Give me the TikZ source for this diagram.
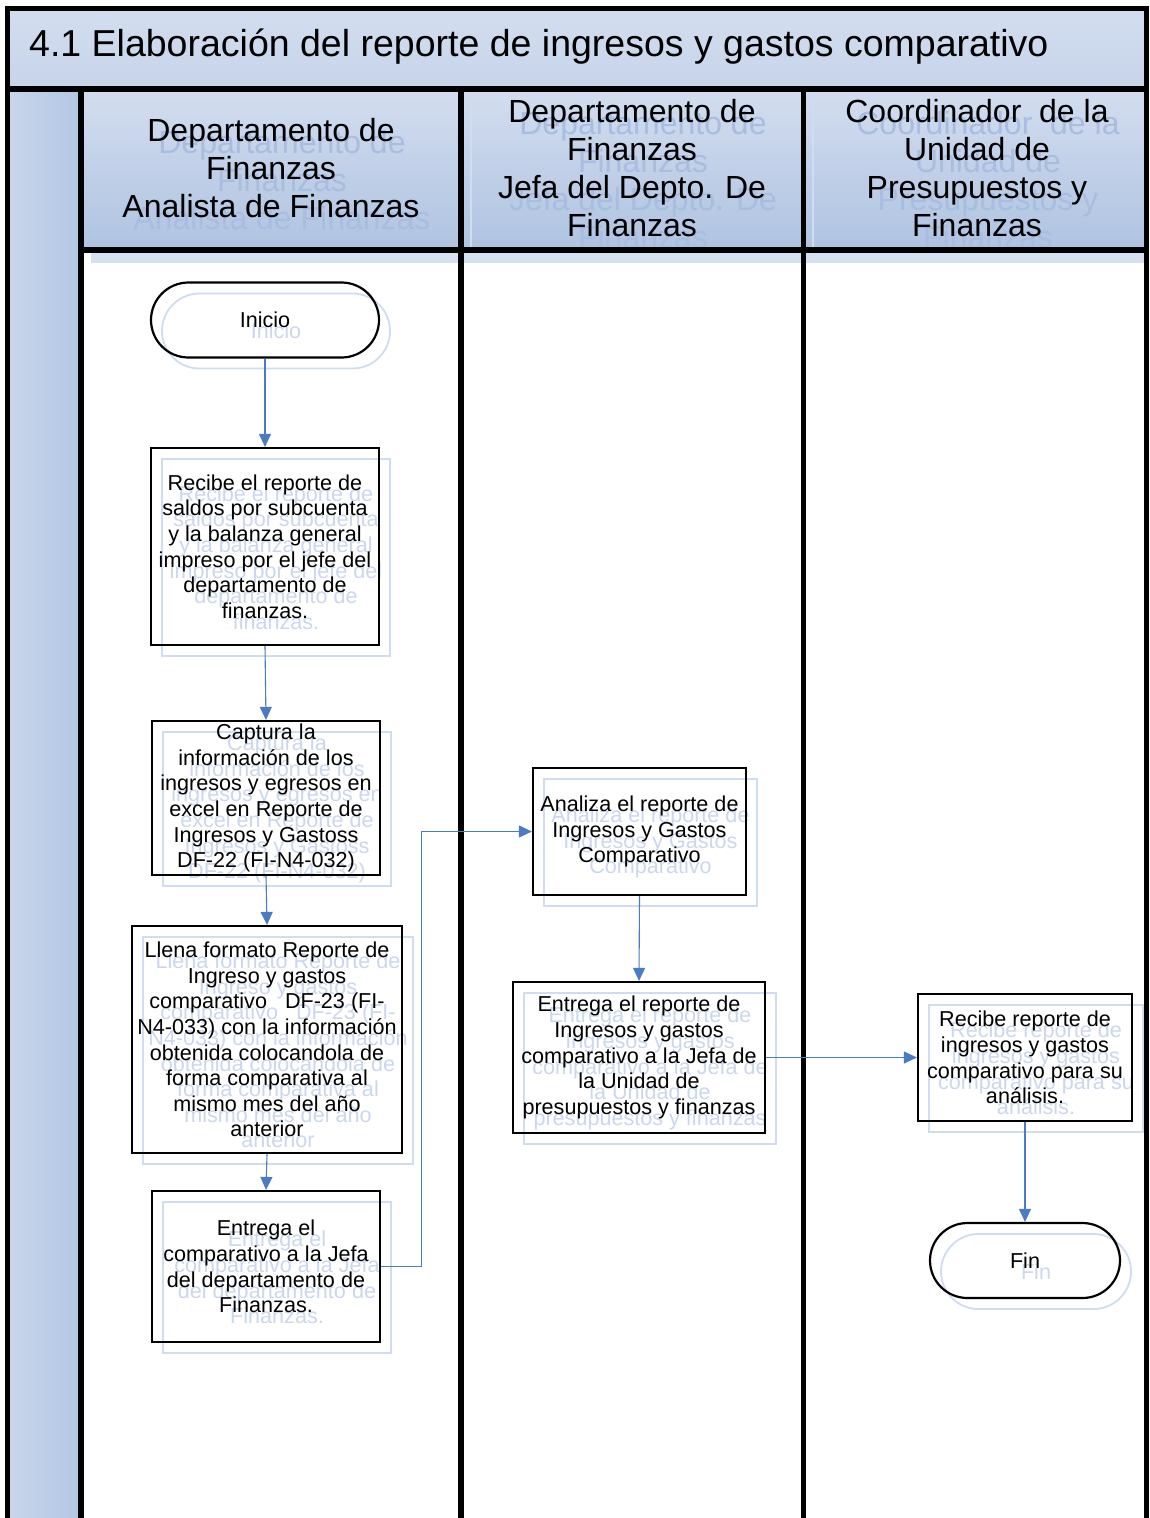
\documentclass[tikz,border=0pt]{standalone}
\usepackage{fontspec}
\setmainfont{Liberation Sans}
\usetikzlibrary{shapes.misc,arrows.meta}

\definecolor{titlefill}{HTML}{C6D4EA}
\definecolor{headtop}{HTML}{D3DDEF}
\definecolor{headbot}{HTML}{AFC3E1}
\definecolor{stripfill}{HTML}{B3C6E2}
\definecolor{ghostline}{HTML}{D0DCF0}
\definecolor{ghosttext}{HTML}{CBD7EE}
\definecolor{ghosthead}{HTML}{A8BDE0}
\definecolor{ghostfill}{HTML}{D7E0F0}
\definecolor{flowblue}{HTML}{4A7CC6}

\tikzset{
  boxtext/.style={font=\fontsize{21.6}{25.6}\selectfont, align=center, inner sep=0pt},
  procbox/.style={boxtext, draw=black, line width=2.2pt, rectangle},
  termbox/.style={boxtext, draw=black, line width=2.2pt, rounded rectangle},
  ghostproc/.style={boxtext, draw=ghostline, line width=1.8pt, rectangle, text=ghosttext},
  ghostterm/.style={boxtext, draw=ghostline, line width=1.8pt, rounded rectangle, text=ghosttext},
  headtext/.style={font=\fontsize{32}{38}\selectfont, align=center, inner sep=0pt},
  flow/.style={draw=flowblue, line width=1.1pt, -{Triangle[length=13pt,width=12pt]}},
  frame/.style={draw=black, line width=6pt},
}

% shape kind (proc/term), name, x, y, width, height, text
\newcommand\flowshape[7]{%
  \node[ghost#1, minimum width=#5, minimum height=#6] at ({#3+11},{#4+11}) {#7};
  \node[#1box, minimum width=#5, minimum height=#6] (#2) at (#3,#4) {#7};
}

\begin{document}
\begin{tikzpicture}[x=1pt, y=-1pt]
\useasboundingbox (0,0) rectangle (1149,1518);
\fill[white] (0,0) rectangle (1149,1518);

% title bar and left strip
\shade[top color=headtop, bottom color=titlefill] (7,8) rectangle (1146,89);
\shade[left color=headtop!70!stripfill, right color=stripfill] (7,89) rectangle (81,1518);

% lane header shadows
\fill[ghostfill] (91,101) rectangle (471,263);
\fill[ghostfill] (471,101) rectangle (813,263);
\fill[ghostfill] (813,101) rectangle (1146,263);

% lane headers
\shade[top color=headtop, bottom color=headbot] (81,89) rectangle (461,250);
\shade[top color=headtop, bottom color=headbot] (461,89) rectangle (803,250);
\shade[top color=headtop, bottom color=headbot] (803,89) rectangle (1146,250);
\draw[ghostline, line width=1.5pt] (471,101) -- (471,250);
\draw[ghostline, line width=1.5pt] (813,101) -- (813,250);

% header texts with their shadows
\node[headtext, text=ghosthead] at (282,180) {Departamento de\\Finanzas\\Analista de Finanzas};
\node[headtext, text=ghosthead] at (643,180) {Departamento de\\Finanzas\\Jefa del Depto. De\\Finanzas};
\node[headtext, text=ghosthead] at (988,180) {Coordinador\ \ de la\\Unidad de\\Presupuestos y\\Finanzas};
\node[headtext] (h1) at (271,168) {Departamento de\\Finanzas\\Analista de Finanzas};
\node[headtext] (h2) at (632,168) {Departamento de\\Finanzas\\Jefa del Depto. De\\Finanzas};
\node[headtext] (h3) at (977,168) {Coordinador\ \ de la\\Unidad de\\Presupuestos y\\Finanzas};

% title
\node[anchor=west, inner sep=0pt, font=\fontsize{37.5}{44}\selectfont] (title) at (29,47)
  {4.1 Elaboración del reporte de ingresos y gastos comparativo};

% frame and lane dividers
\draw[frame, line width=5pt] (7,1530) -- (7,8) -- (1146,8) -- (1146,1530);
\draw[frame] (7,89) -- (1146,89);
\draw[frame] (81,89) -- (81,1530);
\draw[frame] (81,250) -- (1146,250);
\draw[frame] (461,89) -- (461,1530);
\draw[frame, line width=5pt] (803,89) -- (803,1530);

% flow shapes
\flowshape{term}{ini}{265}{320}{228}{75}{Inicio}
\flowshape{proc}{b1}{265}{546.5}{228}{197}{Recibe el reporte de\\saldos por subcuenta\\y la balanza general\\impreso por el jefe del\\departamento de\\finanzas.}
\flowshape{proc}{b2}{266}{798}{228}{154}{Captura la\\información de los\\ingresos y egresos en\\excel en Reporte de\\Ingresos y Gastoss\\DF-22 (FI-N4-032)}
\flowshape{proc}{b3}{267}{1039.5}{270}{227}{Llena formato Reporte de\\Ingreso y gastos\\comparativo\ \ \ DF-23 (FI-\\N4-033) con la información\\obtenida colocandola de\\forma comparativa al\\mismo mes del año\\anterior}
\flowshape{proc}{b4}{266}{1266.5}{228}{151}{Entrega el\\comparativo a la Jefa\\del departamento de\\Finanzas.}
\flowshape{proc}{b5}{639.5}{831.5}{213}{127}{Analiza el reporte de\\Ingresos y Gastos\\Comparativo}
\flowshape{proc}{b6}{639}{1057.5}{252}{151}{Entrega el reporte de\\Ingresos y gastos\\comparativo a la Jefa de\\la Unidad de\\presupuestos y finanzas}
\flowshape{proc}{b7}{1025}{1057.5}{214}{127}{Recibe reporte de\\ingresos y gastos\\comparativo para su\\análisis.}
\flowshape{term}{fin}{1025}{1260.5}{190}{75}{Fin}

% connectors
\draw[flow] (ini.south) -- (b1.north);
\draw[flow] (b1.south) -- (b2.north);
\draw[flow] (b2.south) -- (b3.north);
\draw[flow] (b3.south) -- (b4.north);
\draw[flow] (b4.east) -- ++(40,0) |- (b5.west);
\draw[flow] (b5.south) -- (b6.north);
\draw[flow] (b6.east) -- (b7.west);
\draw[flow] (b7.south) -- (fin.north);
\end{tikzpicture}
\end{document}
